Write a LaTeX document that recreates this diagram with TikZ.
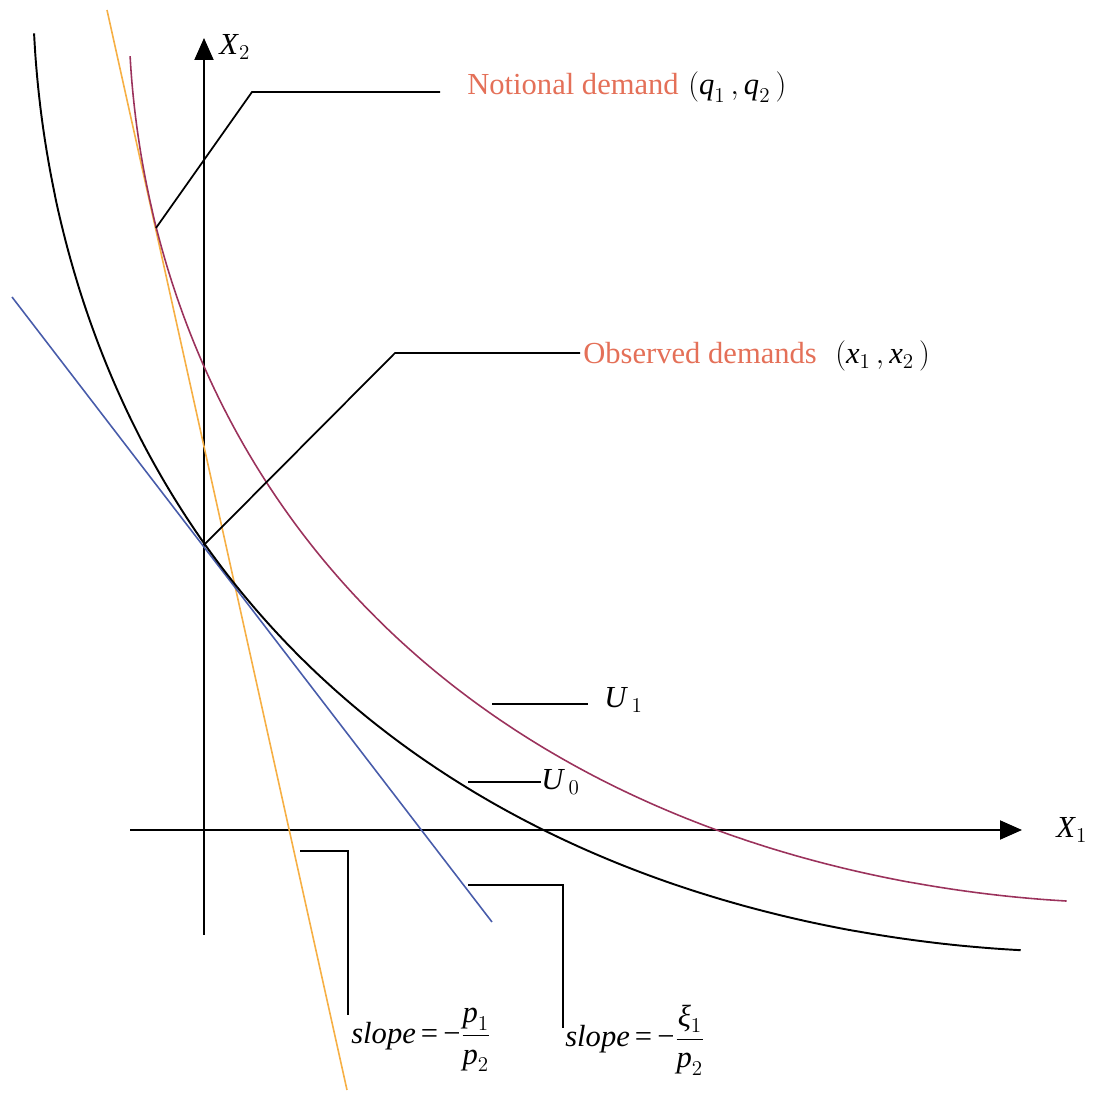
\documentclass[tikz,border=0pt]{standalone}
\usepackage{amsmath}
\usepackage{fontspec}
\setmainfont{Liberation Serif}
\usepackage{tikz}
\usetikzlibrary{arrows.meta}
\definecolor{notecolor}{RGB}{228,112,88}
\definecolor{budgetorange}{RGB}{246,176,70}
\definecolor{budgetblue}{RGB}{72,92,170}
\definecolor{curvepurple}{RGB}{155,50,92}

\begin{document}
\begin{tikzpicture}[x=0.02cm, y=-0.02cm,
    declare function={cespow(\a,\r)=\a*\a*exp((\r-2)*ln(\a));},
    axis/.style={line width=1.1pt, -{Triangle[length=4.4mm, width=3.8mm]}},
    indiff/.style={line width=1.1pt, smooth, samples=150, variable=\t},
    budget/.style={line width=0.9pt},
    leader/.style={line width=1pt},
    lbl/.style={inner sep=0pt, font=\fontsize{17.4pt}{21pt}\selectfont}]
    \useasboundingbox (0,0) rectangle (1100,1094);

    % axes
    \coordinate (ybot) at (204,935);
    \coordinate (ytop) at (204,38);
    \coordinate (xleft) at (130,830);
    \coordinate (xright) at (1022,830);
    \draw[axis] (ybot) -- (ytop);
    \draw[axis] (xleft) -- (xright);
    \node[lbl, anchor=base west] (xtwo) at (219,55) {\textit{X}$_{2}$};
    \node[lbl, anchor=base west] (xone) at (1056,838) {\textit{X}$_{1}$};

    % budget lines
    \coordinate (otop) at (107,10);
    \coordinate (obot) at (347,1090);
    \coordinate (btop) at (12,297);
    \coordinate (bbot) at (492,922);
    \draw[budget, budgetorange] (otop) -- (obot);
    \draw[budget, budgetblue] (btop) -- (bbot);

    % indifference curves U0 and U1
    \draw[indiff] plot[domain=0.0237:0.968]
        ({33+1050*cespow(\t,1.835)}, {952-960*cespow(1-\t,1.835)});
    \draw[indiff, curvepurple, line width=0.9pt] plot[domain=0.0239:0.9665]
        ({129+1000*cespow(\t,1.818)}, {903-885*cespow(1-\t,1.818)});

    % notional demand
    \coordinate (notional) at (156,228);
    \coordinate (notebend) at (252,92);
    \coordinate (noteend) at (440,92);
    \draw[leader] (notional) -- (notebend) -- (noteend);
    \node[lbl, anchor=base west, text=notecolor] (notelbl) at (467,95) {Notional demand};
    \node[lbl, anchor=base west] (qlbl) at (688,95) {$(\textit{q}_{1}\,,\textit{q}_{2}\,)$};

    % observed demands
    \coordinate (observed) at (204,545);
    \coordinate (obsbend) at (395,353);
    \coordinate (obsend) at (580,353);
    \draw[leader] (observed) -- (obsbend) -- (obsend);
    \node[lbl, anchor=base west, text=notecolor] (obslbl) at (583,364) {Observed demands};
    \node[lbl, anchor=base west] (xlbl) at (835,364) {$(\textit{x}_{1}\,,\textit{x}_{2}\,)$};

    % curve labels
    \coordinate (uonea) at (492,704);
    \coordinate (uoneb) at (588,704);
    \draw[leader] (uonea) -- (uoneb);
    \node[lbl, anchor=base west] (uone) at (604,708) {\textit{U}$_{\,1}$};
    \coordinate (uzeroa) at (468,782);
    \coordinate (uzerob) at (541,782);
    \draw[leader] (uzeroa) -- (uzerob);
    \node[lbl, anchor=base west] (uzero) at (541,790) {\textit{U}$_{\,0}$};

    % slopes
    \coordinate (pslopea) at (300,851);
    \coordinate (pslopeb) at (348,851);
    \coordinate (pslopec) at (348,1015);
    \draw[leader] (pslopea) -- (pslopeb) -- (pslopec);
    \node[lbl, anchor=west] (pslope) at (351,1040)
        {\textit{slope}\,=\,−$\dfrac{\textit{p}_{1}}{\textit{p}_{2}}$};
    \coordinate (xislopea) at (468,885);
    \coordinate (xislopeb) at (563,885);
    \coordinate (xislopec) at (563,1028);
    \draw[leader] (xislopea) -- (xislopeb) -- (xislopec);
    \node[lbl, anchor=west] (xislope) at (565,1040)
        {\textit{slope}\,=\,−$\dfrac{\textit{ξ}_{1}}{\textit{p}_{2}}$};
\end{tikzpicture}
\end{document}
